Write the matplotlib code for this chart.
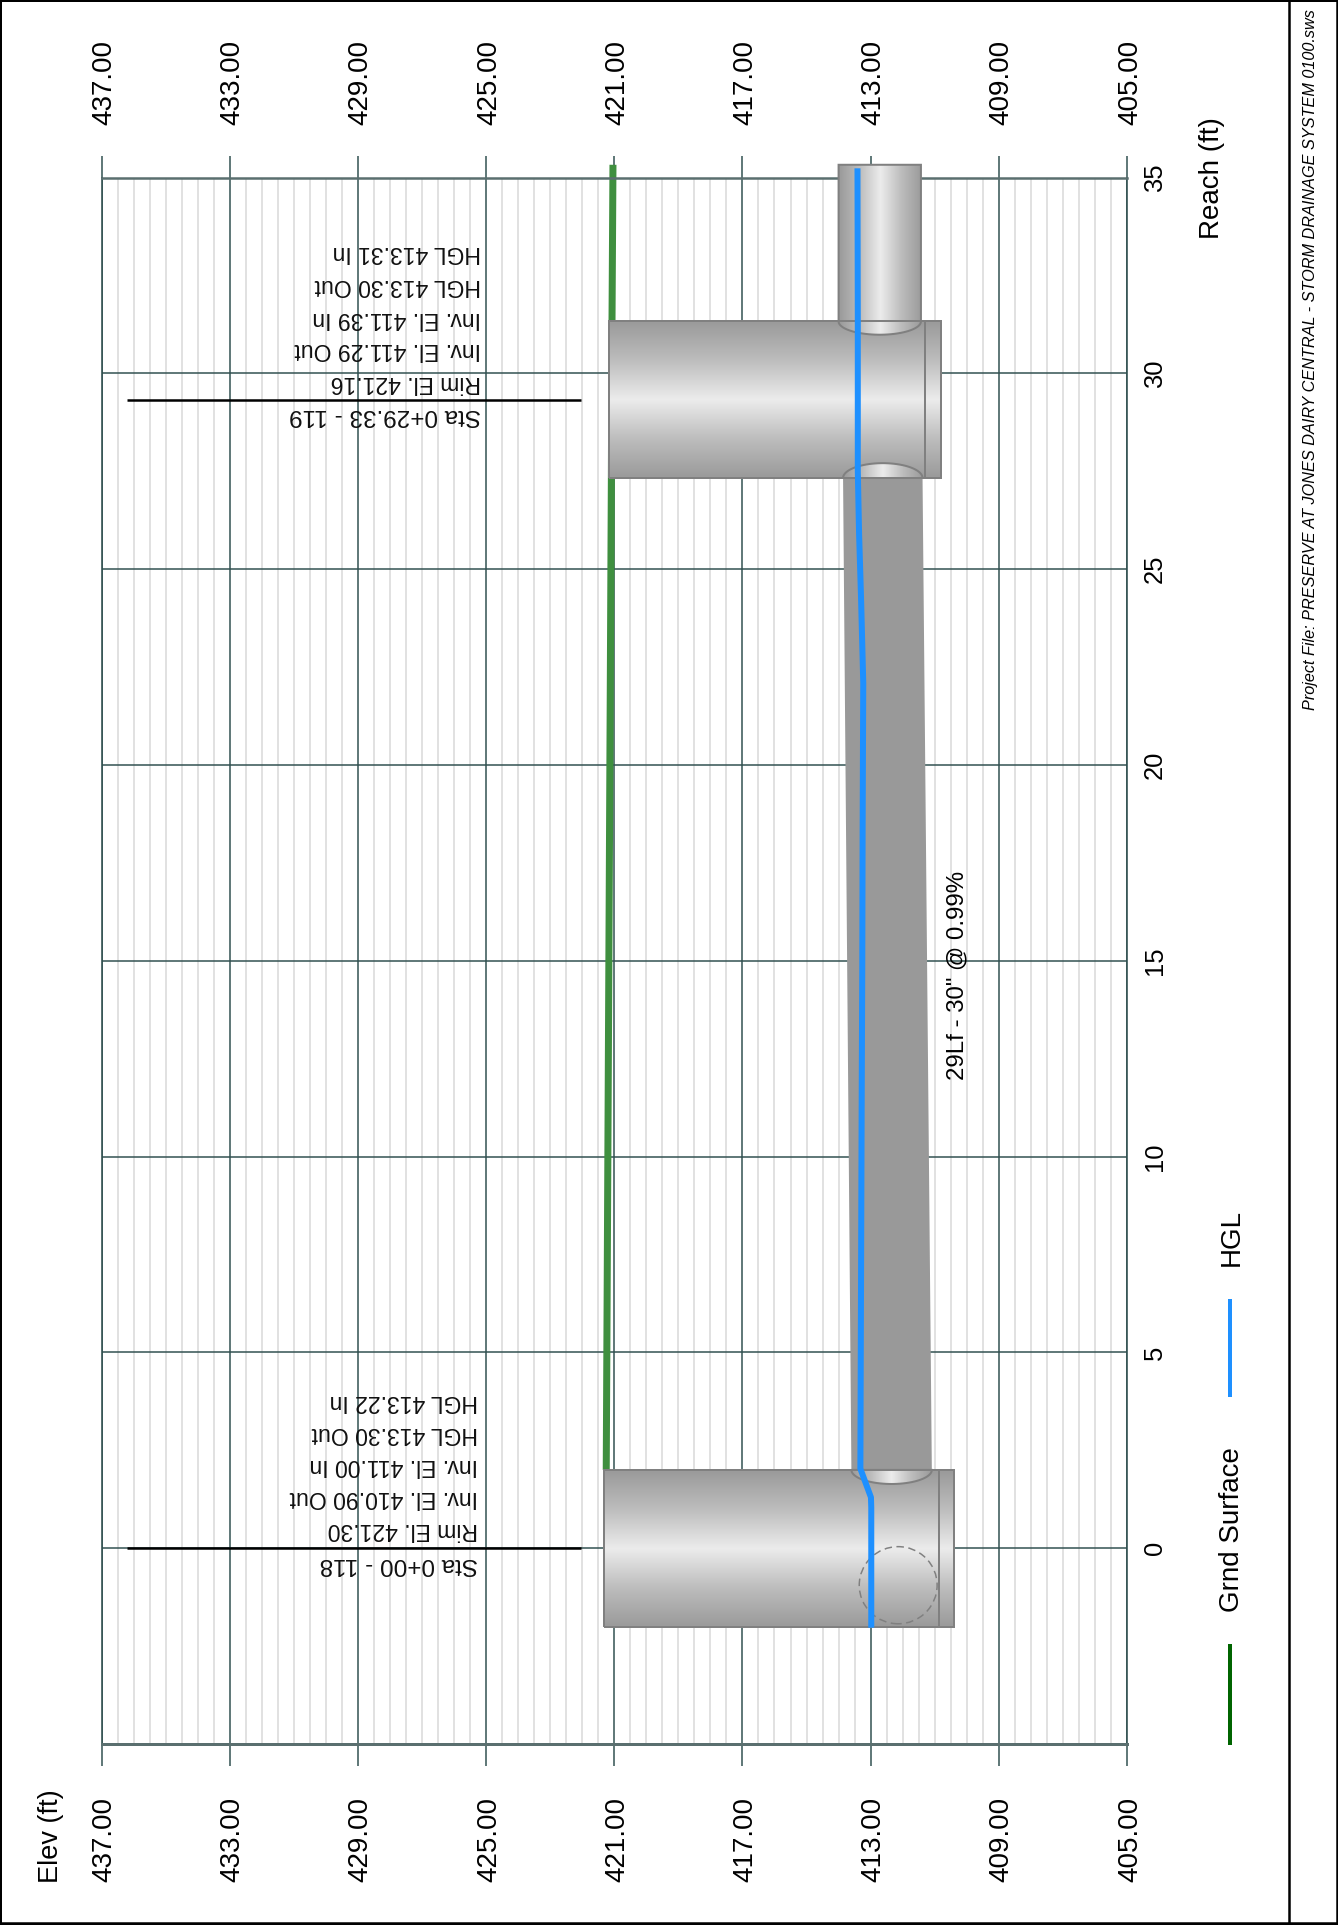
import numpy as np
import matplotlib
matplotlib.use("Agg")
import matplotlib.pyplot as plt
from matplotlib.lines import Line2D
from matplotlib.patches import PathPatch, Ellipse, Polygon
from matplotlib.path import Path
from matplotlib.colors import LinearSegmentedColormap
from matplotlib.transforms import ScaledTranslation

plt.rcParams['font.family'] = ['Liberation Sans', 'DejaVu Sans']

# ---- data ----
elev_ticks = [437, 433, 429, 425, 421, 417, 413, 409, 405]
reach_ticks = [0, 5, 10, 15, 20, 25, 30, 35]

grnd_reach = [2.0, 27.33, 31.33, 35.33]
grnd_elev = [421.25, 421.09, 421.07, 421.04]

hgl_reach = [-2.03, 1.04, 1.3, 1.72, 2.03, 11.2, 15.0, 18.3, 22.1, 24.3, 25.9, 27.5, 31.33, 35.24]
hgl_elev = [412.98, 412.98, 412.99, 413.18, 413.32, 413.28, 413.26, 413.25, 413.23, 413.30, 413.36, 413.40, 413.40, 413.41]

# manholes: reach low, reach high, rim, sump, inner invert line
mh_118 = (-2.0, 2.0, 421.31, 410.40, 410.88)
mh_119 = (27.33, 31.33, 421.16, 410.79, 411.30)

pipe_reach = [2.0, 27.33]
pipe_top = [413.60, 413.86]
pipe_bot = [411.09, 411.38]
pipe2_reach = (31.33, 35.33)
pipe2_top = 414.0
pipe2_bot = 411.43

sta_118 = ["Sta 0+00 - 118", "Rim El. 421.30", "Inv. El. 410.90 Out",
           "Inv. El. 411.00 In", "HGL 413.30 Out", "HGL 413.22 In"]
sta_118_r = [-0.40, 0.48, 1.30, 2.11, 2.93, 3.75]
sta_119 = ["Sta 0+29.33 - 119", "Rim El. 421.16", "Inv. El. 411.29 Out",
           "Inv. El. 411.39 In", "HGL 413.30 Out", "HGL 413.31 In"]
sta_119_r = [28.93, 29.78, 30.60, 31.40, 32.25, 33.10]

W, H = 1338, 1925
DPI = 100
fig = plt.figure(figsize=(W / DPI, H / DPI), dpi=DPI)
fx = lambda p: p / W
fy = lambda p: 1 - p / H
pt = lambda p: p * 72 / DPI

AX_L, AX_R, AX_T, AX_B = 101.5, 1127.0, 177.7, 1744.0
ax = fig.add_axes([fx(AX_L), fy(AX_B), (AX_R - AX_L) / W, (AX_B - AX_T) / H])
ax.set_xlim(437, 405)
ax.set_ylim(-5, 35)
ax.set_autoscale_on(False)

GRID = '#2f4f4f'
ax.set_axisbelow(True)
ax.set_xticks(elev_ticks)
ax.set_xticklabels([f"{v:.2f}" for v in elev_ticks], rotation=90, fontsize=20)
ax.set_xticks(np.arange(405, 437.01, 0.5), minor=True)
ax.set_yticks(reach_ticks)
ax.set_yticklabels([str(v) for v in reach_ticks], rotation=90, fontsize=18.4, va='center')
ax.yaxis.tick_right()
ax.tick_params(axis='x', which='major', top=True, bottom=True, labeltop=True, labelbottom=True,
               length=pt(22), width=pt(1.5), color=GRID, pad=pt(31))
ax.tick_params(axis='x', which='minor', top=False, bottom=False)
ax.tick_params(axis='y', which='major', length=0, pad=pt(16))
ax.grid(True, axis='x', which='minor', color='#dedede', lw=pt(1.8), zorder=0.5)
ax.grid(True, axis='both', which='major', color=GRID, lw=pt(1.5), zorder=0.8)
for s in ax.spines.values():
    s.set_color(GRID)
    s.set_linewidth(pt(1.6))
ax.spines['top'].set_linewidth(pt(2.5))
ax.spines['top'].set_color('#5a6f6f')
ax.spines['bottom'].set_linewidth(pt(3))
ax.spines['bottom'].set_color('#5a6f6f')

# nudge the rotated elevation labels so the digits sit on their ticks
nudge = ScaledTranslation(3 / DPI, 0, fig.dpi_scale_trans)
for tick in ax.xaxis.get_major_ticks():
    tick.label1.set_transform(tick.label1.get_transform() + nudge)
    tick.label2.set_transform(tick.label2.get_transform() + nudge)

# ground
ax.plot(grnd_elev, grnd_reach, color='#3f8f3f', lw=pt(7), solid_capstyle='butt', zorder=2, clip_on=False)

cm = LinearSegmentedColormap.from_list('cyl', ['#9a9a9a', '#bdbdbd', '#ececec', '#bdbdbd', '#9a9a9a'])
OUT = '#808080'


def shaded(path, extent, vertical):
    grad = np.linspace(0, 1, 256)
    arr = grad[:, None] if vertical else grad[None, :]
    im = ax.imshow(arr, extent=extent, origin='lower', aspect='auto', cmap=cm, zorder=3,
                   interpolation='bilinear', vmin=0, vmax=1)
    patch = PathPatch(path, fc='none', ec=OUT, lw=pt(2), zorder=3.2)
    ax.add_patch(patch)
    patch.set_clip_on(False)
    im.set_clip_box(fig.bbox)
    im.set_clip_path(patch)
    return patch


def manhole(m):
    r0, r1, rim, sump, inner = m
    p = Path([(rim, r0), (sump, r0), (sump, r1), (rim, r1), (rim, r0)])
    shaded(p, (rim, sump, r0, r1), True)
    ax.plot([inner, inner], [r0, r1], color=OUT, lw=pt(2), zorder=3.3)


manhole(mh_118)
manhole(mh_119)


def arc(top, bot, r, bulge):
    t = np.linspace(0, np.pi, 40)
    e = (top + bot) / 2 + (top - bot) / 2 * np.cos(t)
    return np.column_stack([e, r + bulge * np.sin(t)])


# main pipe (flat grey)
ax.add_patch(Polygon([(pipe_top[0], pipe_reach[0]), (pipe_bot[0], pipe_reach[0]),
                      (pipe_bot[1], pipe_reach[1]), (pipe_top[1], pipe_reach[1])],
                     closed=True, fc='#999999', ec='none', zorder=3.1))
# lens at each end of the main pipe
lens1 = arc(pipe_top[0], pipe_bot[0], pipe_reach[0], -0.36)
shaded(Path(np.vstack([lens1, lens1[:1]])), (pipe_top[0], pipe_bot[0], 1.6, 2.0), False)
lens2 = arc(pipe_top[1], pipe_bot[1], pipe_reach[1], 0.38)
shaded(Path(np.vstack([lens2, lens2[:1]])), (pipe_top[1], pipe_bot[1], 27.3, 27.75), False)

# upstream pipe
a = arc(pipe2_top, pipe2_bot, pipe2_reach[0], -0.34)
v = np.vstack([a, [[pipe2_bot, pipe2_reach[1]], [pipe2_top, pipe2_reach[1]], a[0]]])
shaded(Path(v), (pipe2_top, pipe2_bot, 30.9, 35.4), False)

# dashed pipe outline in the manhole
ax.add_patch(Ellipse((412.14, -0.945), 2.43, 1.97, fc='none', ec=OUT, lw=pt(1.5),
                     ls=(0, (5, 3)), zorder=3.4))

# HGL
ax.plot(hgl_elev, hgl_reach, color='#1e90ff', lw=pt(6), solid_capstyle='butt',
        solid_joinstyle='round', zorder=4, clip_on=False)

# station lines
for r in (0.0, 29.33):
    ax.plot([436.2, 422.05], [r, r], color='black', lw=pt(2.5), solid_capstyle='butt', zorder=2.5)

# station labels
for labels, rs, e in ((sta_118, sta_118_r, 425.25), (sta_119, sta_119_r, 425.16)):
    for i, (t, r) in enumerate(zip(labels, rs)):
        ax.text(e, r, t, rotation=180, ha='right', va='center',
                fontsize=17.5 if i == 0 else 16.6, color='#111111', zorder=5)

ax.text(410.3, 14.64, '29Lf - 30" @ 0.99%', rotation=90, ha='center', va='center',
        fontsize=17.3, color='black', zorder=5)

# axis titles, legend, frame (page coordinates)
fig.text(fx(1212), fy(178), "Reach (ft)", rotation=90, ha='center', va='center', fontsize=20)
fig.text(fx(51), fy(1836), "Elev (ft)", rotation=90, ha='center', va='center', fontsize=19.5)
fig.text(fx(1232), fy(1530), "Grnd Surface", rotation=90, ha='center', va='center', fontsize=20)
fig.text(fx(1232), fy(1238), "HGL", rotation=90, ha='center', va='center', fontsize=20)
fig.add_artist(Line2D([fx(1230)] * 2, [fy(1644), fy(1745)], color='#006400', lw=pt(4), solid_capstyle='butt'))
fig.add_artist(Line2D([fx(1230)] * 2, [fy(1299), fy(1397)], color='#1e90ff', lw=pt(4), solid_capstyle='butt'))
fig.text(fx(1311), fy(710), "Project File: PRESERVE AT JONES DAIRY CENTRAL - STORM DRAINAGE SYSTEM 0100.sws",
         rotation=90, ha='center', va='bottom', fontsize=11.7, style='italic')

for xs, ys, w in (([0.5, 0.5], [0, H], 2), ([1336.5, 1336.5], [0, H], 2.5),
                  ([1289, 1289], [0, H], 2.5), ([0, W], [0.5, 0.5], 2), ([0, W], [1923.5, 1923.5], 3.5)):
    fig.add_artist(Line2D([fx(x) for x in xs], [fy(y) for y in ys], color='black', lw=pt(w)))

fig.savefig('out.png', dpi=DPI, facecolor='white')
